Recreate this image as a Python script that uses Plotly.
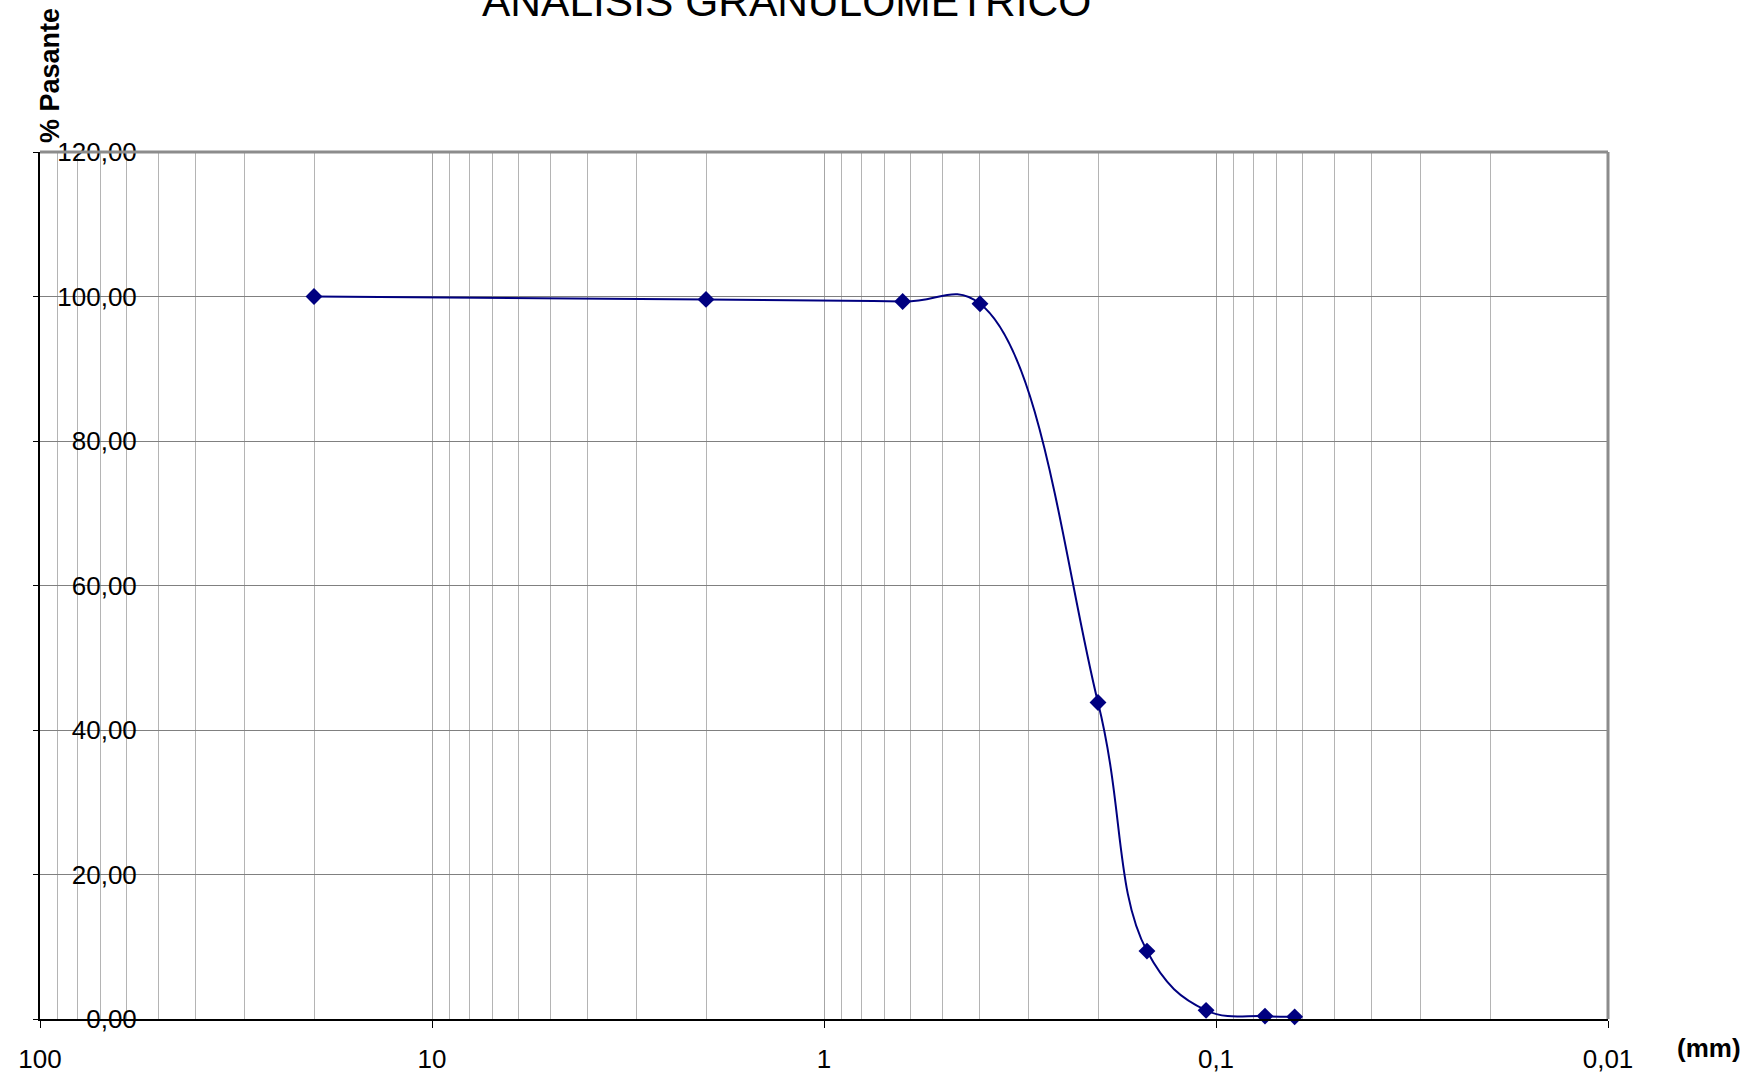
import plotly.graph_objects as go

# Sieve openings (mm) and cumulative percent passing
abertura_mm = [20, 2, 0.63, 0.4, 0.2, 0.15, 0.106, 0.075, 0.063]
pasante = [100.0, 99.6, 99.3, 99.0, 43.8, 9.4, 1.2, 0.4, 0.3]

x_ticks = [100, 10, 1, 0.1, 0.01]
x_tick_labels = ["100", "10", "1", "0,1", "0,01"]
y_ticks = [0, 20, 40, 60, 80, 100, 120]

FONT = "Liberation Sans, Arial, sans-serif"
NAVY = "#000080"

# minor grid: 2..9 within every decade shown
minor_vals = [d * 10.0 ** e for e in range(-2, 2) for d in range(2, 10)]

fig = go.Figure()
fig.add_trace(go.Scatter(
    x=abertura_mm, y=pasante, mode="lines+markers",
    line=dict(color=NAVY, width=2, shape="spline", smoothing=1.15),
    marker=dict(symbol="diamond", size=13, color=NAVY),
    showlegend=False, cliponaxis=False,
))

fig.update_layout(
    width=1756, height=1079,
    margin=dict(l=40, r=148, t=152, b=60),
    paper_bgcolor="white", plot_bgcolor="white",
    separators=",.",
    font=dict(family=FONT, size=26, color="black"),
    xaxis=dict(
        type="log", range=[2, -2], automargin=False,
        tickvals=x_ticks, ticktext=x_tick_labels,
        ticks="outside", ticklen=7, tickcolor="black", tickwidth=1,
        ticklabelstandoff=9,
        tickfont=dict(size=26),
        showgrid=True, gridcolor="#a6a6a6", gridwidth=1,
        minor=dict(tickvals=minor_vals, showgrid=True, gridcolor="#b4b4b4",
                   gridwidth=1, ticks=""),
        showline=True, linecolor="black", linewidth=2,
        zeroline=False,
    ),
    yaxis=dict(
        range=[0, 120], tickvals=y_ticks, tickformat=".2f", automargin=False,
        ticks="outside", ticklen=5, tickcolor="black",
        ticklabelstandoff=-109,
        tickfont=dict(size=26),
        showgrid=True, gridcolor="#808080", gridwidth=1,
        showline=True, linecolor="black", linewidth=2,
        zeroline=False,
    ),
)

# gray frame on the top and right sides of the plot area
fig.add_shape(type="line", xref="paper", yref="paper", x0=0, x1=1, y0=1, y1=1,
              line=dict(color="#8c8c8c", width=3))
fig.add_shape(type="line", xref="paper", yref="paper", x0=1, x1=1, y0=0, y1=1,
              line=dict(color="#8c8c8c", width=3))

fig.add_annotation(text="ANÁLISIS GRANULOMÉTRICO", xref="paper", yref="paper",
                   x=0.476, y=1.174, xanchor="center", yanchor="middle",
                   showarrow=False, font=dict(family=FONT, size=42.5, color="black"))
fig.add_annotation(text="<b>% Pasante</b>", xref="paper", yref="paper",
                   x=0.006, y=1.088, xanchor="center", yanchor="middle",
                   textangle=-90, showarrow=False,
                   font=dict(family=FONT, size=27, color="black"))
fig.add_annotation(text="<b>(mm)</b>", xref="paper", yref="paper",
                   x=1.0645, y=-0.033, xanchor="center", yanchor="middle",
                   showarrow=False, font=dict(family=FONT, size=26, color="black"))

fig.write_html("out.html")
